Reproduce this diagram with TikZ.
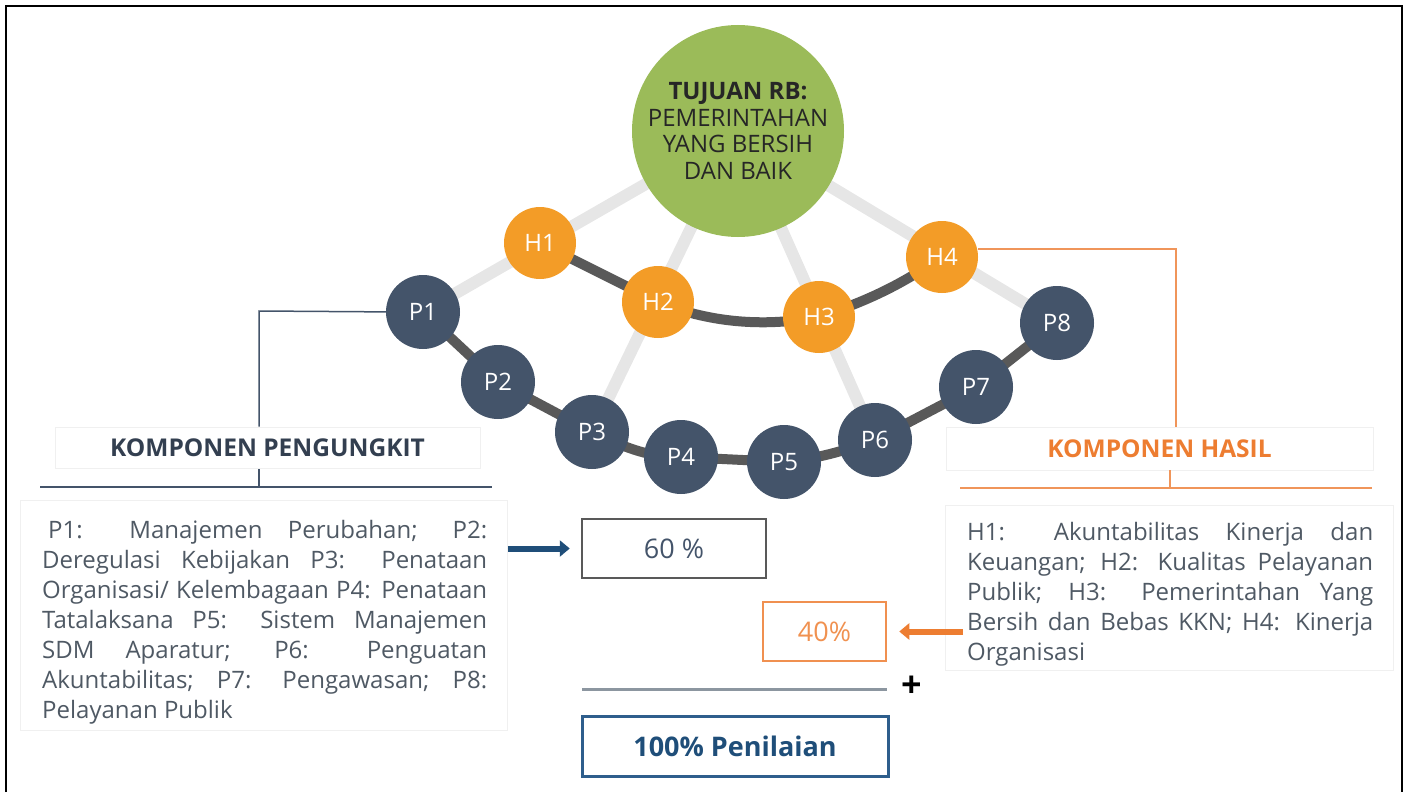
\documentclass[tikz,border=0pt]{standalone}
\usepackage{fontspec}
\setmainfont{Open Sans}
\usetikzlibrary{arrows.meta}

\definecolor{navy}{HTML}{44546A}
\definecolor{amber}{HTML}{F39C27}
\definecolor{leaf}{HTML}{9BBB59}
\definecolor{chainc}{HTML}{595959}
\definecolor{spokec}{HTML}{E6E6E6}
\definecolor{bodytext}{HTML}{4F5964}
\definecolor{headnavy}{HTML}{333F50}
\definecolor{orangeline}{HTML}{F0955A}
\definecolor{orangetext}{HTML}{ED7D31}
\definecolor{bluebox}{HTML}{2E5E8C}
\definecolor{bluetext}{HTML}{1F4E79}
\definecolor{faint}{HTML}{F0F0F0}
\definecolor{rulegray}{HTML}{8C96A0}

\tikzset{
  goal/.style={circle, fill=leaf, minimum size=212pt, inner sep=0pt, align=center,
    text=black!85, font=\fontsize{24}{26.7}\selectfont},
  pnode/.style={circle, fill=navy, minimum size=74pt, inner sep=0pt, text=white,
    font=\fontsize{24}{28}\selectfont},
  hnode/.style={circle, fill=amber, minimum size=72pt, inner sep=0pt, text=white,
    font=\fontsize{24}{28}\selectfont},
  spoke/.style={draw=spokec, line width=12pt},
  chain/.style={draw=chainc, line width=10pt},
  leftline/.style={draw=navy, line width=1.5pt},
  rightline/.style={draw=orangeline, line width=1.5pt},
  labelbox/.style={draw=faint, line width=0.8pt, inner sep=0pt,
    font=\bfseries\fontsize{24.5}{28}\selectfont},
  panel/.style={draw=faint, line width=0.8pt, inner sep=0pt},
  bodyblock/.style={anchor=north west, inner sep=0pt, align=left, text=bodytext,
    font=\fontsize{24}{30}\selectfont},
  scorebox/.style={inner sep=0pt, minimum height=59pt},
  pointer/.style={line width=6pt, -{Triangle[length=10pt,width=16pt]}},
}

\newcommand{\jline}[2]{\makebox[#1][s]{#2}}

\begin{document}
\begin{tikzpicture}[x=1pt,y=-1pt]
\useasboundingbox (0,0) rectangle (1410,792);

% outer frame, open at the bottom
\draw[line width=2.5pt] (6,792) -- (6,6) -- (1402,6) -- (1402,792);

% centres of the goal and the two rows of components
\coordinate (cG) at (738,131);
\coordinate (cP1) at (423,312);
\coordinate (cP2) at (498,382);
\coordinate (cP3) at (592,432);
\coordinate (cP4) at (681,457);
\coordinate (cP5) at (784,462);
\coordinate (cP6) at (875,440);
\coordinate (cP7) at (976,387);
\coordinate (cP8) at (1057,323);
\coordinate (cH1) at (540,243);
\coordinate (cH2) at (658,302);
\coordinate (cH3) at (819,317);
\coordinate (cH4) at (942,257);

% light spokes from the goal
\draw[spoke] (cG) -- (cP1);
\draw[spoke] (cG) -- (cP3);
\draw[spoke] (cG) -- (cP6);
\draw[spoke] (cG) -- (cP8);

% dark chains
\draw[chain] (cP1) -- (cP2) -- (cP3) .. controls (630,450) and (650,457) .. (cP4)
  -- (cP5) .. controls (820,458) and (840,452) .. (cP6) -- (cP7) -- (cP8);
\draw[chain] (cH1) -- (cH2) .. controls (715,325) and (770,326) .. (cH3)
  .. controls (870,300) and (900,285) .. (cH4);

\node[goal] (G) at (cG) {\textbf{TUJUAN RB:}\\PEMERINTAHAN\\YANG BERSIH\\DAN BAIK};

\foreach \i in {1,...,8} {\node[pnode] (P\i) at (cP\i) {P\i};}
\foreach \i in {1,...,4} {\node[hnode] (H\i) at (cH\i) {H\i};}

% ---- left side: enabling components
\node[labelbox, text=headnavy, minimum width=425pt, minimum height=41pt] (leftlabel)
  at (267.5,447.5) {KOMPONEN PENGUNGKIT};
\coordinate (lk) at (259,311);
\draw[leftline] ([xshift=14pt]P1.west) -- (lk) -- (lk |- leftlabel.north);
\coordinate (lt) at (259,469);
\coordinate (la) at (40,487);
\coordinate (lb) at (492,487);
\draw[leftline] (lt) -- (lt |- la);
\draw[leftline] (la) -- (lb);

\node[panel, anchor=north west, minimum width=487pt, minimum height=230pt] (leftpanel)
  at (20,500) {};
\node[bodyblock] (lefttext) at (42,520) {%
\jline{445pt}{\hspace{6pt}P1: Manajemen Perubahan; P2:}\\
\jline{445pt}{Deregulasi Kebijakan P3: Penataan}\\
\jline{445pt}{Organisasi/ Kelembagaan P4: Penataan}\\
\jline{445pt}{Tatalaksana P5: Sistem Manajemen}\\
\jline{445pt}{SDM Aparatur; P6: Penguatan}\\
\jline{445pt}{Akuntabilitas; P7: Pengawasan; P8:}\\
Pelayanan Publik};

% ---- right side: result components
\node[labelbox, text=orangetext, minimum width=427pt, minimum height=43pt] (rightlabel)
  at (1159.5,448.5) {KOMPONEN HASIL};
\coordinate (rk) at (1176,249);
\draw[rightline] ([yshift=8pt]H4.east) -- (rk) -- (rk |- rightlabel.north);
\coordinate (rt) at (1170,470);
\coordinate (ra) at (960,488);
\coordinate (rb) at (1372,488);
\draw[rightline] (rt) -- (rt |- ra);
\draw[rightline] (ra) -- (rb);

\node[panel, anchor=north west, minimum width=448pt, minimum height=165pt] (rightpanel)
  at (945,505) {};
\node[bodyblock] (righttext) at (967,522) {%
\jline{406pt}{H1: Akuntabilitas Kinerja dan}\\
\jline{406pt}{Keuangan; H2: Kualitas Pelayanan}\\
\jline{406pt}{Publik; H3: Pemerintahan Yang}\\
\jline{406pt}{Bersih dan Bebas KKN; H4: Kinerja}\\
Organisasi};

% ---- weighting
\node[scorebox, draw=chainc, line width=2.5pt, minimum width=184pt, text=navy,
  font=\fontsize{27}{32}\selectfont] (sixty) at (674,548.5) {60 \%};
\node[scorebox, draw=orangetext!85, line width=2.5pt, minimum width=123pt, text=orangetext!85,
  font=\fontsize{27}{32}\selectfont] (forty) at (824.5,631.5) {40\%};
\node[scorebox, draw=bluebox, line width=3pt, minimum width=306pt, minimum height=60pt,
  text=bluetext, font=\bfseries\fontsize{27}{32}\selectfont] (total)
  at (735,746) {100\% Penilaian};

\draw[pointer, draw=bluetext, fill=bluetext, shorten >=11pt] (leftpanel.east |- sixty) -- (sixty.west);
\coordinate (oa) at (963,631.5);
\draw[pointer, draw=orangetext, fill=orangetext, shorten >=12pt] (oa) -- (forty.east);

\coordinate (s1) at (582,689);
\coordinate (s2) at (887,689);
\draw[draw=rulegray, line width=3pt] (s1) -- (s2);
\node[font=\bfseries\fontsize{36}{36}\selectfont, inner sep=0pt] (plus) at (912,687) {+};
\end{tikzpicture}
\end{document}
